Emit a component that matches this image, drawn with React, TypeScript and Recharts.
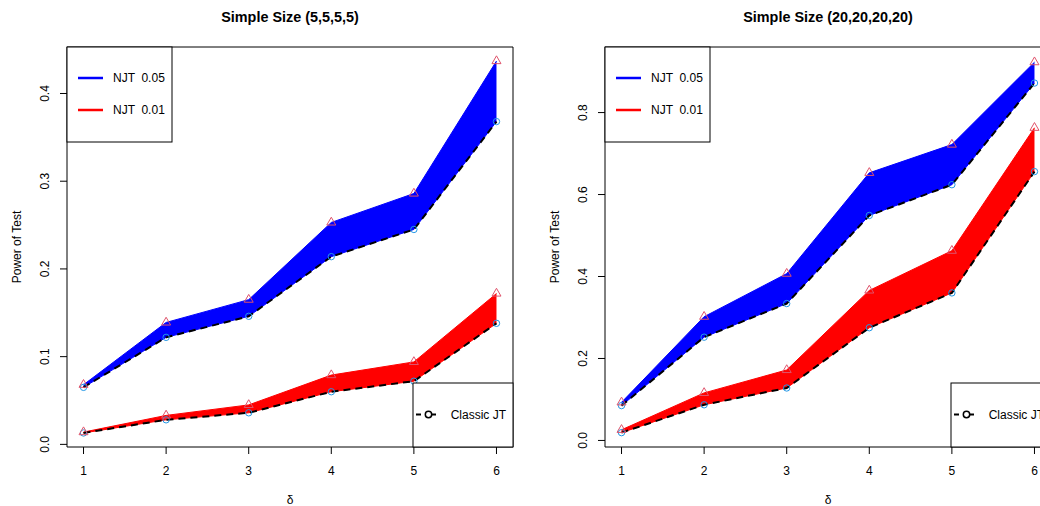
import React from 'react';
import { ComposedChart, Area, Line, XAxis, YAxis, ReferenceArea, Label } from 'recharts';

const DELTA = [1, 2, 3, 4, 5, 6];

// Simple Size (5,5,5,5)
const SMALL_NJT05_HIGH = [0.068, 0.139, 0.165, 0.253, 0.286, 0.437];
const SMALL_NJT05_LOW = [0.065, 0.122, 0.146, 0.214, 0.245, 0.368];
const SMALL_NJT01_HIGH = [0.014, 0.033, 0.045, 0.079, 0.094, 0.172];
const SMALL_NJT01_LOW = [0.013, 0.028, 0.036, 0.060, 0.072, 0.138];
const SMALL_Y_TICKS = [0, 0.1, 0.2, 0.3, 0.4];

// Simple Size (20,20,20,20)
const LARGE_NJT05_HIGH = [0.093, 0.302, 0.407, 0.653, 0.722, 0.923];
const LARGE_NJT05_LOW = [0.085, 0.252, 0.334, 0.549, 0.624, 0.872];
const LARGE_NJT01_HIGH = [0.026, 0.116, 0.172, 0.366, 0.463, 0.763];
const LARGE_NJT01_LOW = [0.019, 0.087, 0.128, 0.275, 0.360, 0.656];
const LARGE_Y_TICKS = [0, 0.2, 0.4, 0.6, 0.8];

const FONT = '"Liberation Sans", Arial, Helvetica, sans-serif';
const BLUE = '#0000FF';
const RED = '#FF0000';
const TRI = '#DF536B';
const CIRC = '#2297E6';

const W = 538;
const H = 506;
const PLOT = { left: 67, top: 47, width: 446, height: 400 };

const TriangleDot = (props: any) => {
  const { cx, cy, index } = props;
  if (cx == null || cy == null) return <g key={`t-${index}`} />;
  const pts = `${cx},${cy - 5.2} ${cx - 4.5},${cy + 2.6} ${cx + 4.5},${cy + 2.6}`;
  return <polygon key={`t-${index}`} points={pts} fill="none" stroke={TRI} strokeWidth={1} />;
};

const CircleDot = (props: any) => {
  const { cx, cy, index } = props;
  if (cx == null || cy == null) return <g key={`c-${index}`} />;
  return <circle key={`c-${index}`} cx={cx} cy={cy} r={3.2} fill="none" stroke={CIRC} strokeWidth={1} />;
};

const YTick = (props: any) => {
  const { x, y, payload } = props;
  const bx = x - 10.7;
  return (
    <text x={bx} y={y} transform={`rotate(-90 ${bx} ${y})`} textAnchor="middle" fontSize={12} fill="#000" fontFamily={FONT}>
      {Number(payload.value).toFixed(1)}
    </text>
  );
};

interface PanelProps {
  title: string;
  hi05: number[];
  lo05: number[];
  hi01: number[];
  lo01: number[];
  yDomain: [number, number];
  yTicks: number[];
}

const Panel: React.FC<PanelProps> = ({ title, hi05, lo05, hi01, lo01, yDomain, yTicks }) => {
  const data = DELTA.map((d, i) => ({
    x: d,
    band05: [lo05[i], hi05[i]],
    hi05: hi05[i],
    lo05: lo05[i],
    band01: [lo01[i], hi01[i]],
    hi01: hi01[i],
    lo01: lo01[i],
  }));

  const right = PLOT.left + PLOT.width;
  const bottom = PLOT.top + PLOT.height;

  return (
    <div style={{ position: 'absolute', left: 0, top: 0, width: W, height: H }}>
      <ComposedChart
        width={W}
        height={H}
        data={data}
        margin={{ top: PLOT.top, right: W - right, bottom: 0, left: 0 }}
      >
        <XAxis
          type="number"
          dataKey="x"
          domain={[0.8, 6.2]}
          ticks={DELTA}
          interval={0}
          allowDataOverflow
          height={H - bottom}
          axisLine={false}
          tickSize={7}
          tickMargin={12}
          tickLine={{ stroke: '#000' }}
          tick={{ fill: '#000', fontSize: 12, fontFamily: FONT }}
        >
          <Label
            content={() => (
              <text x={PLOT.left + PLOT.width / 2} y={504} textAnchor="middle" fontSize={12} fill="#000" fontFamily={FONT}>
                δ
              </text>
            )}
          />
        </XAxis>
        <YAxis
          type="number"
          domain={yDomain}
          ticks={yTicks}
          interval={0}
          allowDataOverflow
          width={PLOT.left}
          axisLine={false}
          tickSize={7}
          tickMargin={0}
          tickLine={{ stroke: '#000' }}
          tick={<YTick />}
        >
          <Label
            content={() => {
              const cy = PLOT.top + PLOT.height / 2;
              return (
                <text x={20.5} y={cy} transform={`rotate(-90 20.5 ${cy})`} textAnchor="middle" fontSize={12} fill="#000" fontFamily={FONT}>
                  Power of Test
                </text>
              );
            }}
          />
        </YAxis>
        <Area
          dataKey="band05"
          stroke={BLUE}
          strokeWidth={1}
          fill={BLUE}
          fillOpacity={1}
          dot={false}
          activeDot={false}
          isAnimationActive={false}
        />
        <Area
          dataKey="band01"
          stroke={RED}
          strokeWidth={1}
          fill={RED}
          fillOpacity={1}
          dot={false}
          activeDot={false}
          isAnimationActive={false}
        />
        <Line dataKey="lo05" stroke="#000" strokeWidth={2} strokeDasharray="7 5" dot={<CircleDot />} activeDot={false} isAnimationActive={false} />
        <Line dataKey="lo01" stroke="#000" strokeWidth={2} strokeDasharray="7 5" dot={<CircleDot />} activeDot={false} isAnimationActive={false} />
        <Line dataKey="hi05" stroke="none" dot={<TriangleDot />} activeDot={false} isAnimationActive={false} />
        <Line dataKey="hi01" stroke="none" dot={<TriangleDot />} activeDot={false} isAnimationActive={false} />
        <ReferenceArea x1={0.8} x2={6.2} y1={yDomain[0]} y2={yDomain[1]} fill="none" stroke="#000" strokeWidth={1} fillOpacity={0} ifOverflow="visible" />
      </ComposedChart>
      <svg width={W} height={H} style={{ position: 'absolute', left: 0, top: 0, pointerEvents: 'none' }}>
        <text x={PLOT.left + PLOT.width / 2} y={22} textAnchor="middle" fontSize={14.4} fontWeight="bold" fill="#000" fontFamily={FONT}>
          {title}
        </text>
        {/* NJT legend */}
        <rect x={PLOT.left} y={PLOT.top} width={105} height={95} fill="#fff" stroke="#000" strokeWidth={1} />
        <line x1={78} x2={103} y1={78} y2={78} stroke={BLUE} strokeWidth={2.5} />
        <line x1={78} x2={103} y1={110} y2={110} stroke={RED} strokeWidth={2.5} />
        <text x={113} y={82.3} fontSize={12} fill="#000" fontFamily={FONT} style={{ whiteSpace: 'pre' }}>NJT  0.05</text>
        <text x={113} y={114.3} fontSize={12} fill="#000" fontFamily={FONT} style={{ whiteSpace: 'pre' }}>NJT  0.01</text>
        {/* Classic JT legend */}
        <rect x={413} y={383} width={right - 413} height={bottom - 383} fill="#fff" stroke="#000" strokeWidth={1} />
        <line x1={416} x2={421} y1={414.5} y2={414.5} stroke="#000" strokeWidth={2} />
        <line x1={432} x2={436} y1={414.5} y2={414.5} stroke="#000" strokeWidth={2} />
        <circle cx={428.5} cy={414.5} r={3.2} fill="none" stroke="#000" strokeWidth={1.5} />
        <text x={450.7} y={418.8} fontSize={12} fill="#000" fontFamily={FONT}>Classic JT</text>
      </svg>
    </div>
  );
};

export default function App() {
  return (
    <div style={{ position: 'absolute', left: 0, top: 0, width: 1040, height: 506, overflow: 'hidden', background: '#fff' }}>
      <div style={{ position: 'absolute', left: 0, top: 0, width: W, height: H }}>
        <Panel
          title="Simple Size (5,5,5,5)"
          hi05={SMALL_NJT05_HIGH}
          lo05={SMALL_NJT05_LOW}
          hi01={SMALL_NJT01_HIGH}
          lo01={SMALL_NJT01_LOW}
          yDomain={[-0.003, 0.453]}
          yTicks={SMALL_Y_TICKS}
        />
      </div>
      <div style={{ position: 'absolute', left: W, top: 0, width: W, height: H }}>
        <Panel
          title="Simple Size (20,20,20,20)"
          hi05={LARGE_NJT05_HIGH}
          lo05={LARGE_NJT05_LOW}
          hi01={LARGE_NJT01_HIGH}
          lo01={LARGE_NJT01_LOW}
          yDomain={[-0.016, 0.96]}
          yTicks={LARGE_Y_TICKS}
        />
      </div>
    </div>
  );
}
